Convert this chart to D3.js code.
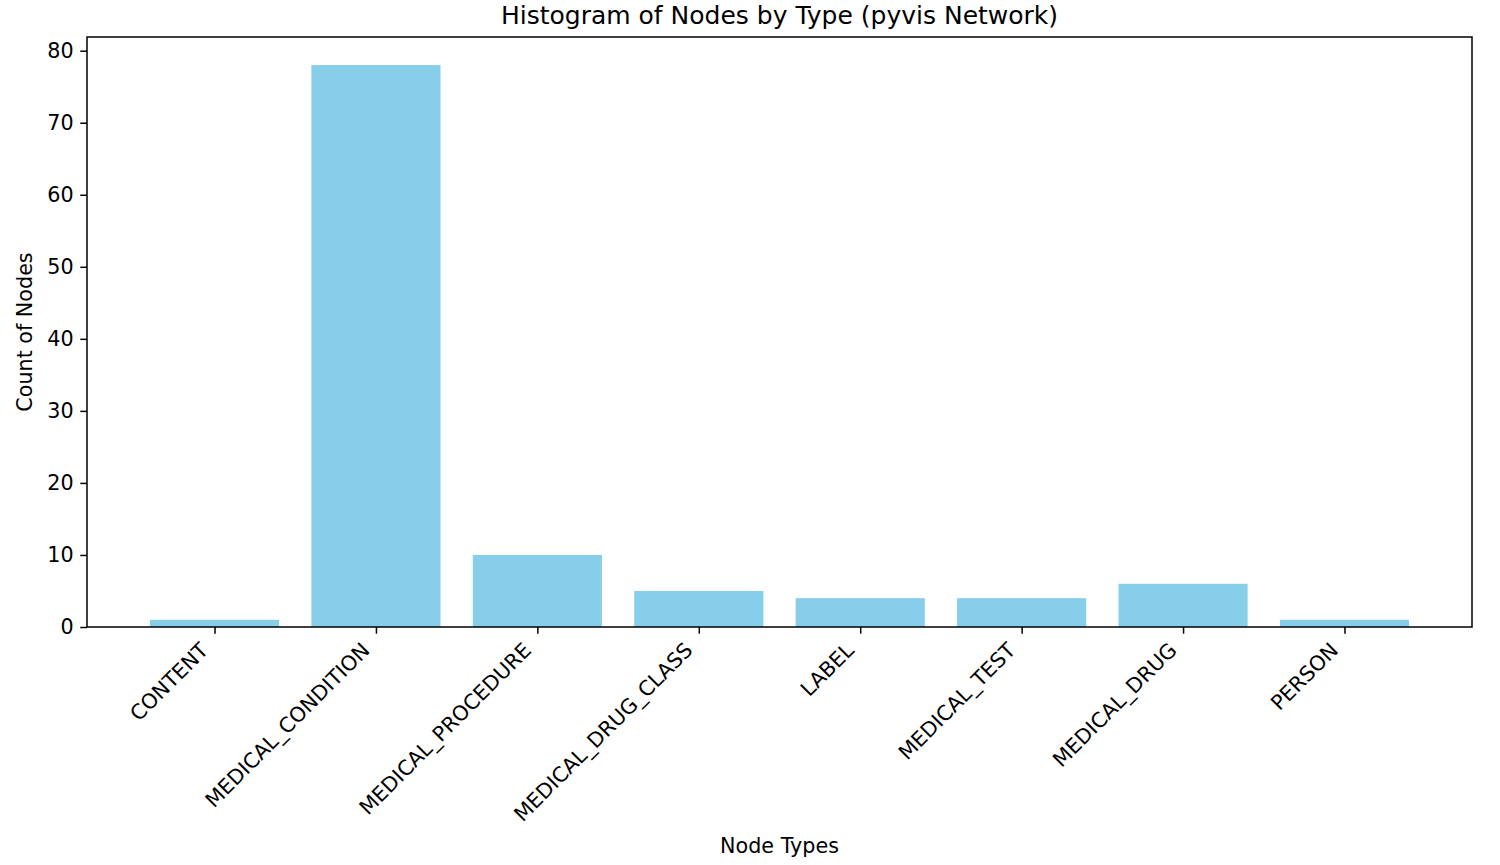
<!DOCTYPE html>
<html><head><meta charset="utf-8">
<script src="https://cdn.jsdelivr.net/npm/d3@7"></script>
<style>body{margin:0;background:#fff}svg{display:block}text{font-family:"DejaVu Sans",sans-serif;fill:#000}</style>
</head><body><svg id="c" width="1500" height="865"></svg>
<script>
const categories = ["CONTENT","MEDICAL_CONDITION","MEDICAL_PROCEDURE","MEDICAL_DRUG_CLASS","LABEL","MEDICAL_TEST","MEDICAL_DRUG","PERSON"];
const counts = [1, 78, 10, 5, 4, 4, 6, 1];
const yTicks = [0,10,20,30,40,50,60,70,80];
const titleText = "Histogram of Nodes by Type (pyvis Network)";
const xLabel = "Node Types";
const yLabel = "Count of Nodes";

const svg = d3.select("#c");
const L = 87, R = 1472, T = 37, B = 627;
const n = categories.length;
const pad = 0.4 + 0.05*(n - 1 + 0.8);
const x = d3.scaleLinear().domain([-pad, n - 1 + pad]).range([L, R]);
const yMax = d3.max(counts) * 1.05;
const y = d3.scaleLinear().domain([0, yMax]).range([B, T]);
const FS = 20.7;

svg.append("g").selectAll("rect").data(counts).join("rect")
  .attr("x", (d,i) => x(i - 0.4)).attr("width", (d,i) => x(i + 0.4) - x(i - 0.4))
  .attr("y", d => y(d)).attr("height", d => y(0) - y(d))
  .attr("fill", "#87CEEB");

svg.append("rect").attr("x", L).attr("y", T).attr("width", R - L).attr("height", B - T)
  .attr("fill", "none").attr("stroke", "#000").attr("stroke-width", 1.5);

// y axis
const ya = svg.append("g").attr("transform", `translate(${L},0)`)
  .call(d3.axisLeft(y).tickValues(yTicks).tickSize(6.7).tickPadding(6.7));
ya.select(".domain").remove();
ya.selectAll("line").attr("stroke", "#000").attr("stroke-width", 1.5);
ya.selectAll("text").attr("font-size", FS).attr("font-family", "DejaVu Sans").attr("fill", "#000");

// x axis
const xa = svg.append("g").attr("transform", `translate(0,${B})`)
  .call(d3.axisBottom(x).tickValues(d3.range(n)).tickSize(6.7).tickFormat(i => categories[i]));
xa.select(".domain").remove();
xa.selectAll("line").attr("stroke", "#000").attr("stroke-width", 1.5);
xa.selectAll("text")
  .attr("font-size", FS).attr("font-family", "DejaVu Sans").attr("fill", "#000")
  .attr("text-anchor", "end").attr("y", 0).attr("dy", "0.72em")
  .attr("transform", function(d){ return `translate(-16,14) rotate(-45)`; });

svg.append("text").attr("x", (L + R)/2).attr("y", 24).attr("text-anchor", "middle")
  .attr("font-size", 25).text(titleText);
svg.append("text").attr("x", (L + R)/2).attr("y", 853).attr("text-anchor", "middle")
  .attr("font-size", FS).text(xLabel);
svg.append("text").attr("transform", `translate(32,${(T + B)/2}) rotate(-90)`).attr("text-anchor", "middle")
  .attr("font-size", FS).text(yLabel);
</script></body></html>
